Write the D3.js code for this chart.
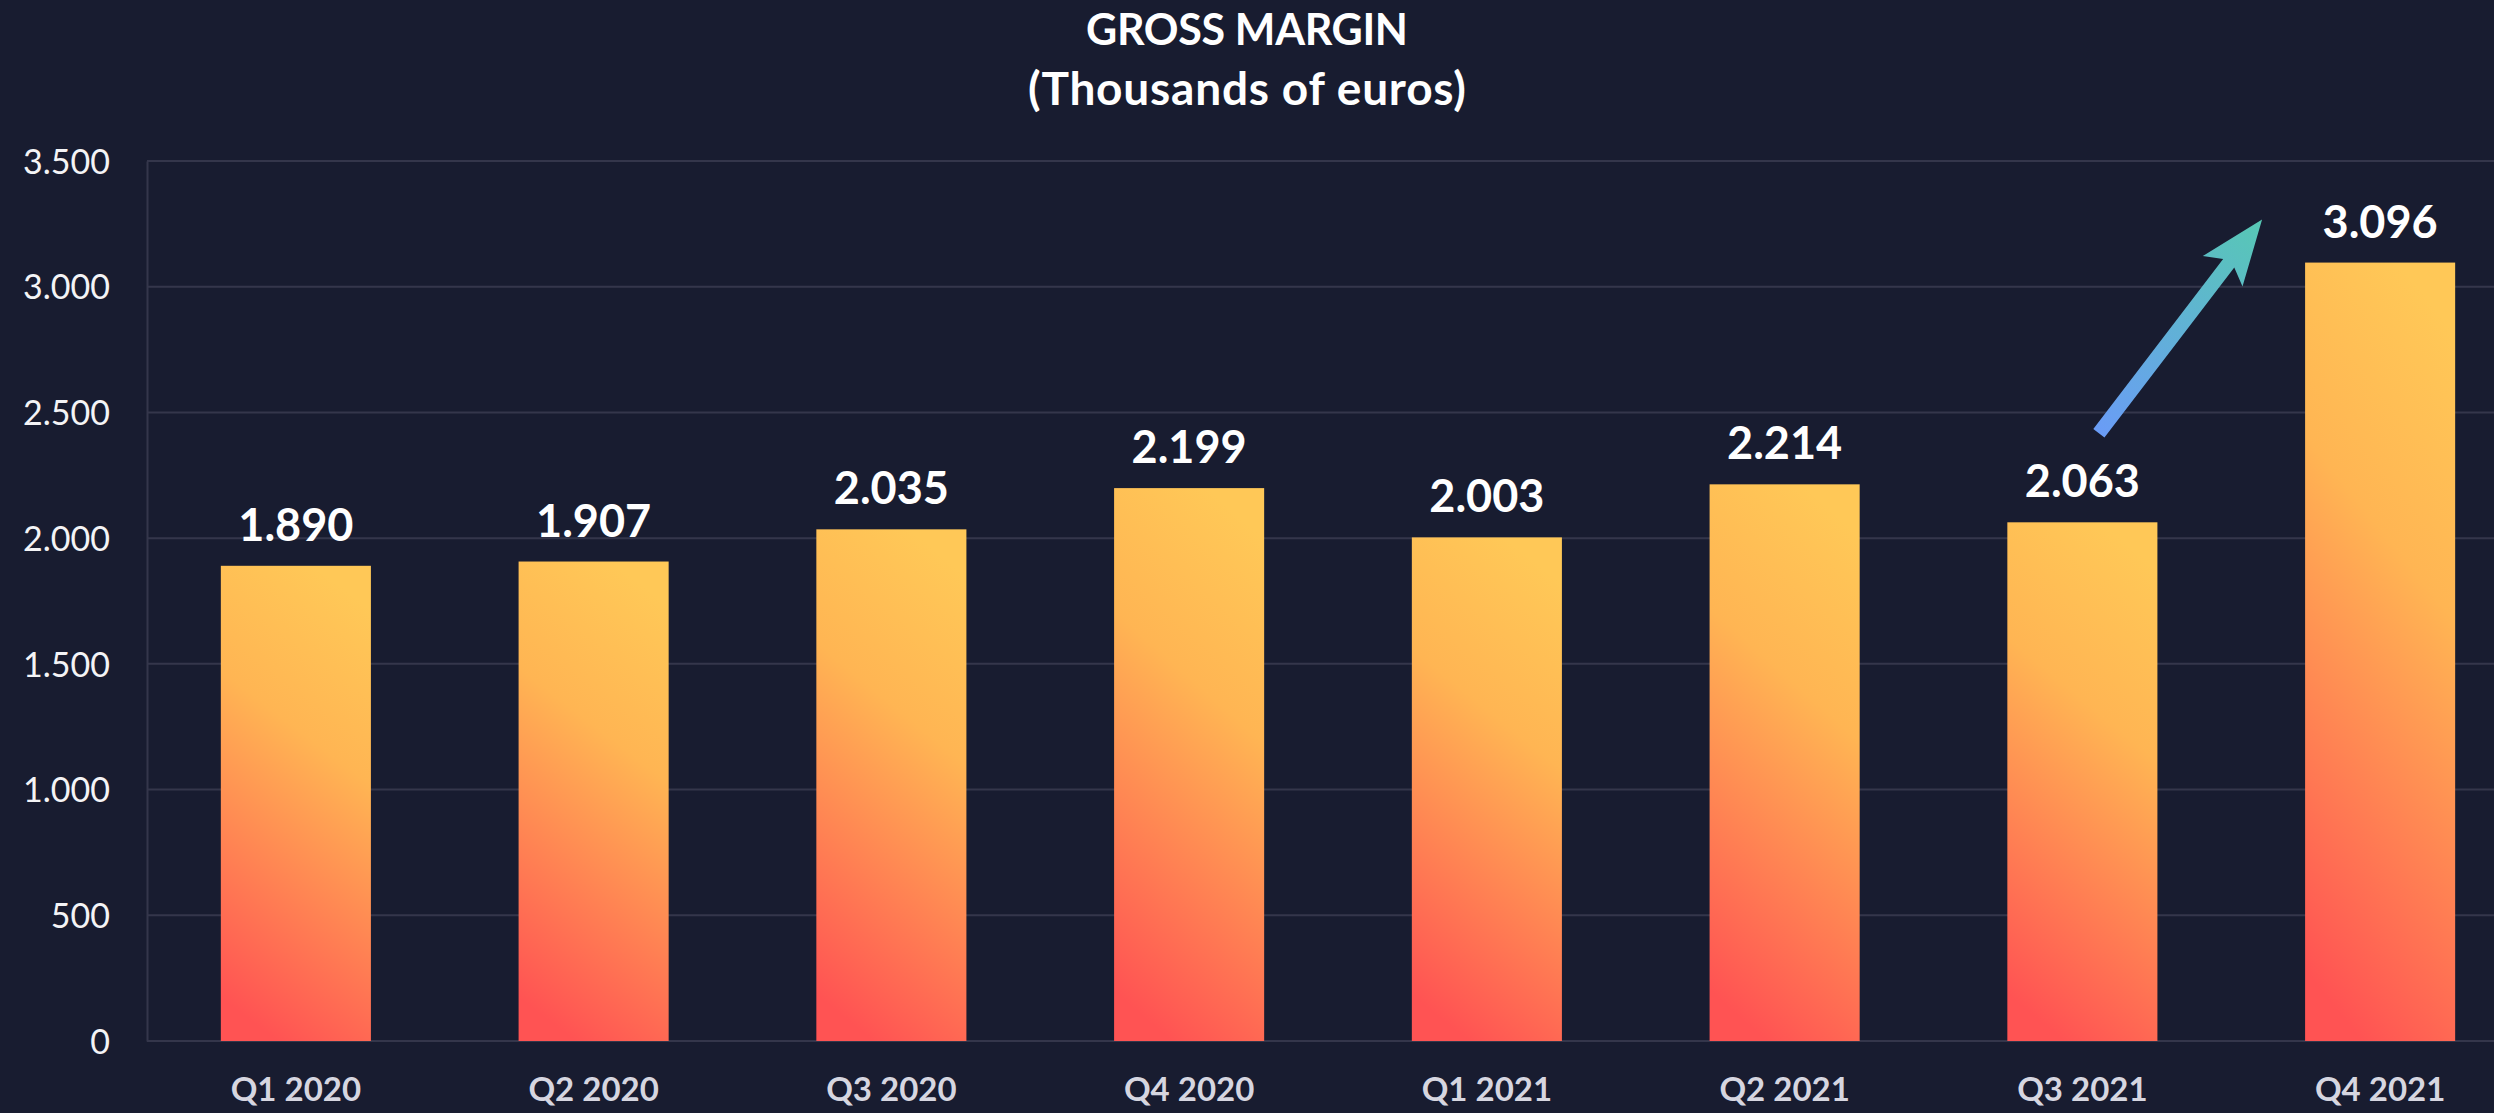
<!DOCTYPE html>
<html><head><meta charset="utf-8">
<script src="https://cdn.jsdelivr.net/npm/d3@7"></script>
<style>
html,body{margin:0;padding:0;background:#181c30;overflow:hidden;}
svg{display:block;}
text{font-family:Lato,"Noto Sans",sans-serif;}
</style></head>
<body><svg id="chart" width="2494" height="1113"></svg>
<script>
const categories = ["Q1 2020","Q2 2020","Q3 2020","Q4 2020","Q1 2021","Q2 2021","Q3 2021","Q4 2021"];
const values = [1890,1907,2035,2199,2003,2214,2063,3096];
const yTicks = [0,500,1000,1500,2000,2500,3000,3500];
const titleLines = ["GROSS MARGIN","(Thousands of euros)"];
const arrowFrom = "Q3 2021", arrowTo = "Q4 2021";

const W = 2494, H = 1113;
const m = {left:147, top:161, bottom:72};
const plotRight = 2529;
const svg = d3.select("#chart");
svg.append("rect").attr("width",W).attr("height",H).attr("fill","#181c30");

const defs = svg.append("defs");
const g1 = defs.append("linearGradient").attr("id","barGrad")
  .attr("x1",0.62).attr("y1",0).attr("x2",0.38).attr("y2",1);
g1.append("stop").attr("offset","0%").attr("stop-color","#ffc857");
g1.append("stop").attr("offset","35%").attr("stop-color","#ffb553");
g1.append("stop").attr("offset","100%").attr("stop-color","#ff5353");

const x = d3.scaleBand().domain(categories).range([m.left, plotRight])
  .paddingInner(0.496).paddingOuter(0.248);
const y = d3.scaleLinear().domain([0,3500]).range([H - m.bottom, m.top]);

// grid
svg.append("g").selectAll("line").data(yTicks.filter(d=>d>0)).join("line")
  .attr("x1",m.left).attr("x2",W).attr("y1",d=>y(d)).attr("y2",d=>y(d))
  .attr("stroke","#34364b").attr("stroke-width",2);

// y axis
const yAxis = svg.append("g").attr("transform",`translate(${m.left},0)`)
  .call(d3.axisLeft(y).tickValues(yTicks).tickSize(0).tickPadding(37)
    .tickFormat(d=>d3.format(",")(d).replace(/,/g,".")));
yAxis.select(".domain").attr("stroke","#34364b").attr("stroke-width",2);
yAxis.selectAll("text").attr("fill","#f4f4f6").attr("font-size",34)
  .attr("font-weight",400).attr("dy","0.36em");

// x axis
const xAxis = svg.append("g").attr("transform",`translate(0,${y(0)})`)
  .call(d3.axisBottom(x).tickSize(0).tickPadding(36));
xAxis.select(".domain").attr("stroke","#34364b").attr("stroke-width",2)
  .attr("d",`M${m.left},0H${W}`);
xAxis.selectAll("text").attr("fill","#d6d6e0").attr("font-size",33)
  .attr("font-weight",700).attr("dy","0.72em");

// bars
svg.append("g").selectAll("rect").data(values).join("rect")
  .attr("x",(d,i)=>x(categories[i])).attr("width",x.bandwidth())
  .attr("y",d=>y(d)).attr("height",d=>y(0)-y(d))
  .attr("fill","url(#barGrad)");

// value labels
svg.append("g").selectAll("text").data(values).join("text")
  .attr("x",(d,i)=>x(categories[i])+x.bandwidth()/2)
  .attr("y",d=>y(d)-25)
  .attr("text-anchor","middle").attr("fill","#ffffff")
  .attr("font-size",45).attr("font-weight",700)
  .text(d=>d3.format(",")(d).replace(/,/g,"."));

// title
const titleW = [322, 438];
const titleSize = [43, 46];
svg.append("g").selectAll("text").data(titleLines).join("text")
  .attr("x",W/2).attr("y",(d,i)=>45+i*60)
  .attr("text-anchor","middle").attr("fill","#ffffff")
  .attr("font-size",(d,i)=>titleSize[i]).attr("font-weight",700)
  .attr("textLength",(d,i)=>titleW[i]).attr("lengthAdjust","spacing")
  .text(d=>d);

// arrow from Q3 label area to Q4 label
const iFrom = categories.indexOf(arrowFrom);
const ax0 = x(arrowFrom) + x.bandwidth()*0.61, ay0 = y(values[iFrom]) - 89;
const ax1 = x(arrowTo) - 43, ay1 = y(values[categories.indexOf(arrowTo)]) - 43;
const ang = Math.atan2(ay1-ay0, ax1-ax0);
const len = Math.hypot(ax1-ax0, ay1-ay0);
const g2 = defs.append("linearGradient").attr("id","arrowGrad")
  .attr("gradientUnits","userSpaceOnUse")
  .attr("x1",0).attr("y1",0).attr("x2",len).attr("y2",0);
g2.append("stop").attr("offset","0%").attr("stop-color","#6a9cf6");
g2.append("stop").attr("offset","100%").attr("stop-color","#57c8b4");
const headL = 55, headW = 25, shaftW = 7;
const pts = [[0,-shaftW],[len-headL,-shaftW],[len-headL-10,-headW],[len,0],[len-headL-10,headW],[len-headL,shaftW],[0,shaftW]];
svg.append("path")
  .attr("d", d3.line()(pts))
  .attr("transform",`translate(${ax0},${ay0}) rotate(${ang*180/Math.PI})`)
  .attr("fill","url(#arrowGrad)");
</script></body></html>
